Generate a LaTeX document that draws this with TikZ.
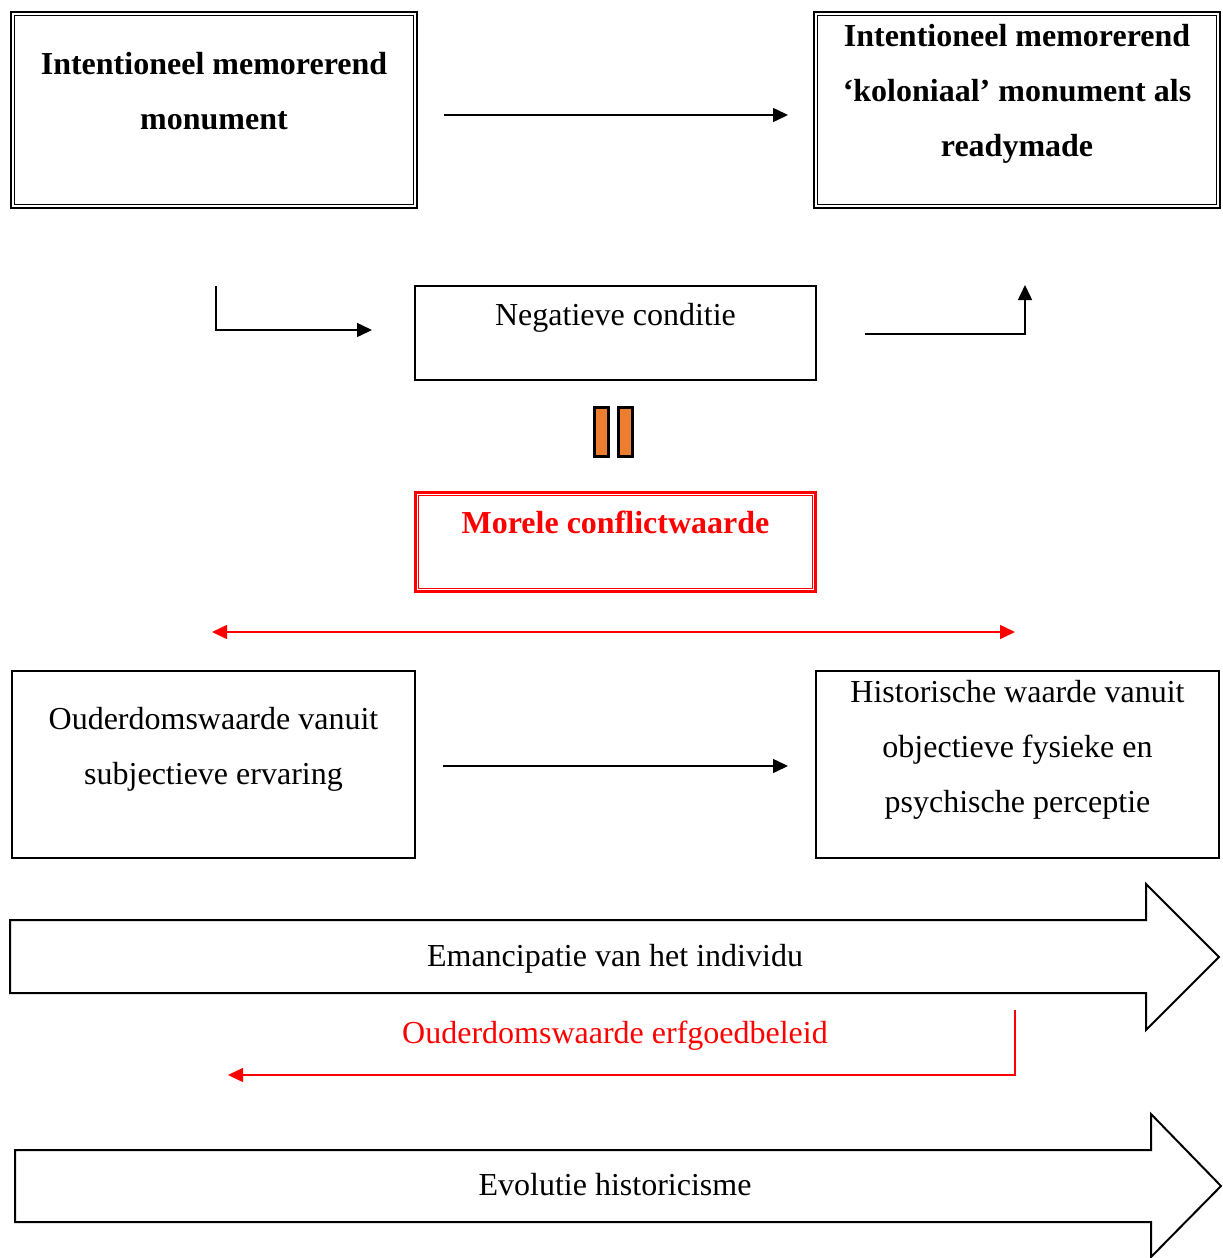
\documentclass[tikz,border=0pt]{standalone}
\usepackage{fontspec}
\setmainfont{Liberation Serif}
\usetikzlibrary{arrows.meta}
\definecolor{barorange}{HTML}{ED7D31}
\definecolor{alertred}{HTML}{FF0000}
\begin{document}
\begin{tikzpicture}[x=1pt,y=-1pt,
  txt/.style={font=\fontsize{32}{38}\selectfont, inner sep=0pt, anchor=base},
  btxt/.style={font=\fontsize{32}{38}\selectfont\bfseries, inner sep=0pt, anchor=base},
  frame/.style={draw, line width=1.6pt, inner sep=0pt, outer sep=0pt},
  dframe/.style={draw, line width=1.6pt, double, double distance=2pt, inner sep=0pt, outer sep=0pt},
  bar/.style={draw, line width=3pt, fill=barorange, minimum width=14pt, minimum height=49pt, inner sep=0pt},
  arr/.style={line width=1.5pt, -{Triangle[length=15pt,width=14pt]}},
  redarr/.style={line width=1.5pt, alertred, -{Triangle[length=15pt,width=14pt]}},
  bigarrow/.style={draw, line width=2pt, line join=miter}]
\useasboundingbox (0,0) rectangle (1223,1258);

% top row: the two monument boxes
\node[dframe, minimum width=402.8pt, minimum height=192.8pt] (mon) at (214,110) {};
\node[btxt] (mon1) at (214,74) {Intentioneel memorerend};
\node[btxt] (mon2) at (214,129) {monument};

\node[dframe, minimum width=402.8pt, minimum height=192.8pt] (ready) at (1017,110) {};
\node[btxt] (ready1) at (1017,46) {Intentioneel memorerend};
\node[btxt] (ready2) at (1017,101) {‘koloniaal’ monument als};
\node[btxt] (ready3) at (1017,156) {readymade};

\coordinate (monout) at (444,115);
\coordinate (readyin) at (788,115);
\draw[arr] (monout) -- (readyin);

% negative condition with its two elbow arrows
\node[frame, minimum width=401pt, minimum height=94pt] (neg) at (615.5,333) {};
\node[txt] (negt) at (615.5,325) {Negatieve conditie};

\coordinate (negl0) at (216,286);
\coordinate (negl1) at (372,330);
\draw[arr] (negl0) |- (negl1);
\coordinate (negr0) at (865,334);
\coordinate (negr1) at (1025,285);
\draw[arr] (negr0) -| (negr1);

% equals bars
\node[bar] (bar1) at (601,432) {};
\node[bar] (bar2) at (625,432) {};

% moral conflict value
\node[draw=alertred, line width=3pt, minimum width=400pt, minimum height=99pt, inner sep=0pt] (moral) at (615.5,542) {};
\draw[alertred, line width=1pt] ([shift={(4.5,4.5)}]moral.north west) rectangle ([shift={(-4.5,-4.5)}]moral.south east);
\node[btxt, text=alertred] (moralt) at (615.5,533) {Morele conflictwaarde};

\coordinate (confl) at (212,632);
\coordinate (confr) at (1015,632);
\draw[line width=1.5pt, alertred, {Triangle[length=15pt,width=14pt]}-{Triangle[length=15pt,width=14pt]}] (confl) -- (confr);

% age value and historical value
\node[frame, minimum width=403pt, minimum height=187pt] (age) at (213.5,764.5) {};
\node[txt] (age1) at (213.5,729) {Ouderdomswaarde vanuit};
\node[txt] (age2) at (213.5,784) {subjectieve ervaring};

\node[frame, minimum width=403pt, minimum height=187pt] (hist) at (1017.5,764.5) {};
\node[txt] (hist1) at (1017.5,702) {Historische waarde vanuit};
\node[txt] (hist2) at (1017.5,757) {objectieve fysieke en};
\node[txt] (hist3) at (1017.5,812) {psychische perceptie};

\coordinate (ageout) at (443,766);
\coordinate (histin) at (788,766);
\draw[arr] (ageout) -- (histin);

% block arrows
\draw[bigarrow] (10,920) -- (1146,920) -- (1146,884) -- (1219,957) -- (1146,1030) -- (1146,993) -- (10,993) -- cycle;
\node[txt] (eman) at (615,966) {Emancipatie van het individu};

\node[txt, text=alertred] (pol) at (615,1043) {Ouderdomswaarde erfgoedbeleid};
\coordinate (pol0) at (1015,1010);
\coordinate (pol1) at (228,1075);
\draw[redarr] (pol0) |- (pol1);

\draw[bigarrow] (15,1150) -- (1151,1150) -- (1151,1114) -- (1221,1186) -- (1151,1257) -- (1151,1222) -- (15,1222) -- cycle;
\node[txt] (evo) at (615,1195) {Evolutie historicisme};
\end{tikzpicture}
\end{document}
